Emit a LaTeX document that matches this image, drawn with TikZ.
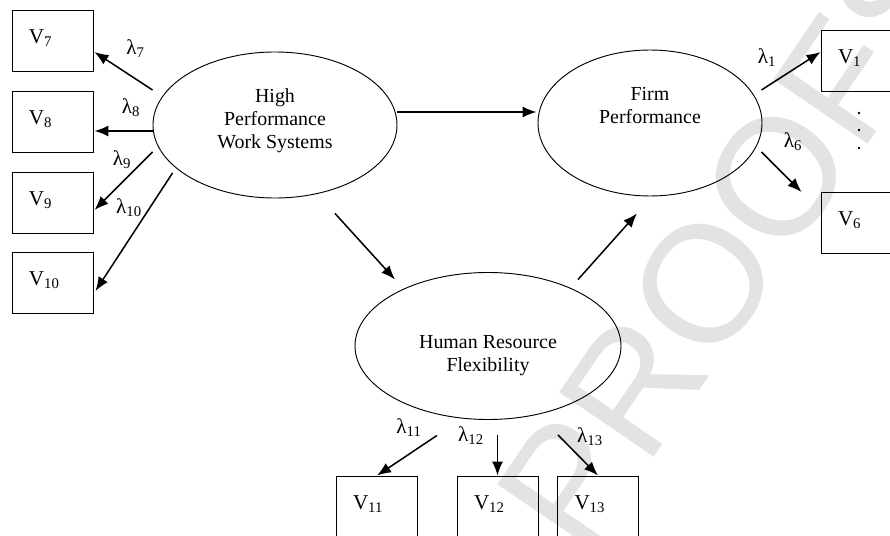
\documentclass[tikz,border=0pt]{standalone}
\usepackage{fontspec}
\setmainfont{Liberation Serif}
\newfontfamily\markfont{Liberation Sans}
\usetikzlibrary{shapes.geometric,arrows.meta,calc}

\begin{document}
\begin{tikzpicture}[
 x=0.03cm, y=-0.03cm,
 >={Latex[length=0.42cm,width=0.33cm]},
 font=\fontsize{18}{20}\selectfont,
 latent/.style={draw=black,ellipse,line width=0.8pt,inner sep=0pt,minimum height=4.38cm,align=center,font=\fontsize{17}{19.6}\selectfont},
 box/.style={draw=black,rectangle,line width=0.8pt,minimum width=2.43cm,minimum height=1.83cm,text width=1.41cm,inner xsep=0.51cm,text height=10pt,text depth=5.7pt,align=left},
 load/.style={->,line width=1.3pt},
 lam/.style={inner sep=0pt}
]
\useasboundingbox (0,0) rectangle (890,536);
\node (proofs) [rotate=55.7,text=black!11,font=\markfont\fontsize{142}{142}\selectfont] at (735,238) {PROOFS};

\node (hpws) [latent,minimum width=7.32cm,text height=44pt,text depth=4.5pt] at (275,125) {High\\Performance\\Work Systems};
\node (firm) [latent,minimum width=6.72cm,text height=12pt,text depth=11pt] at (650,123) {Firm\\Performance};
\node (hrf) [latent,minimum width=7.98cm,minimum height=4.41cm,text height=48pt,text depth=4pt] at (488,346) {Human Resource\\Flexibility};

\node (v7) [box] at (52.5,40.5) {V\textsubscript{7}};
\node (v8) [box] at (52.5,121.5) {V\textsubscript{8}};
\node (v9) [box] at (52.5,202.5) {V\textsubscript{9}};
\node (v10) [box] at (52.5,283) {V\textsubscript{10}};
\node (v1) [box] at (861.5,60.5) {V\textsubscript{1}};
\node (v6) [box] at (861.5,223) {V\textsubscript{6}};
\node (v11) [box] at (376.5,506.5) {V\textsubscript{11}};
\node (v12) [box] at (497.5,506.5) {V\textsubscript{12}};
\node (v13) [box] at (598,506.5) {V\textsubscript{13}};

\draw[load] ($(hpws.west)+(0,-35)$) -- ($(v7.east)+(1,11.5)$);
\draw[load] ($(hpws.west)+(0,6)$) -- ($(v8.east)+(1,9.5)$);
\draw[load] ($(hpws.west)+(0,27)$) -- ($(v9.east)+(1,7.5)$);
\draw[load] ($(hpws.west)+(20,48)$) -- ($(v10.east)+(2,8)$);
\draw[load] ($(hpws.east)+(0,-13)$) -- ($(firm.west)+(-1,-11)$);
\draw[load] ($(hpws.south)+(60,15)$) -- ($(hrf.north)+(-93,7.5)$);
\draw[load] ($(hrf.north)+(90,7.5)$) -- ($(firm.south)+(-13,17)$);
\draw[load] ($(firm.east)+(-1,-33)$) -- ($(v1.west)+(0,-8.5)$);
\draw[load] ($(firm.east)+(-1,29)$) -- ($(v6.west)+(-19,-31)$);
\draw[load] ($(hrf.south)+(-51,15.5)$) -- ($(v11.north)+(0.5,0)$);
\draw[load] ($(hrf.south)+(9.5,15.5)$) -- (v12.north);
\draw[load] ($(hrf.south)+(70,15)$) -- (v13.north);

\node (l7) [lam] at (135.5,49) {λ\textsubscript{7}};
\node (l8) [lam] at (131,108) {λ\textsubscript{8}};
\node (l9) [lam] at (122,160) {λ\textsubscript{9}};
\node (l10) [lam] at (129,208) {λ\textsubscript{10}};
\node (l1) [lam] at (767,58) {λ\textsubscript{1}};
\node (l6) [lam] at (793,142) {λ\textsubscript{6}};
\node (l11) [lam] at (409,428) {λ\textsubscript{11}};
\node (l12) [lam] at (471,436) {λ\textsubscript{12}};
\node (l13) [lam] at (590,437) {λ\textsubscript{13}};

\foreach \y in {113,130,148}
  \fill (859,\y) circle (1.1pt);
\end{tikzpicture}
\end{document}
